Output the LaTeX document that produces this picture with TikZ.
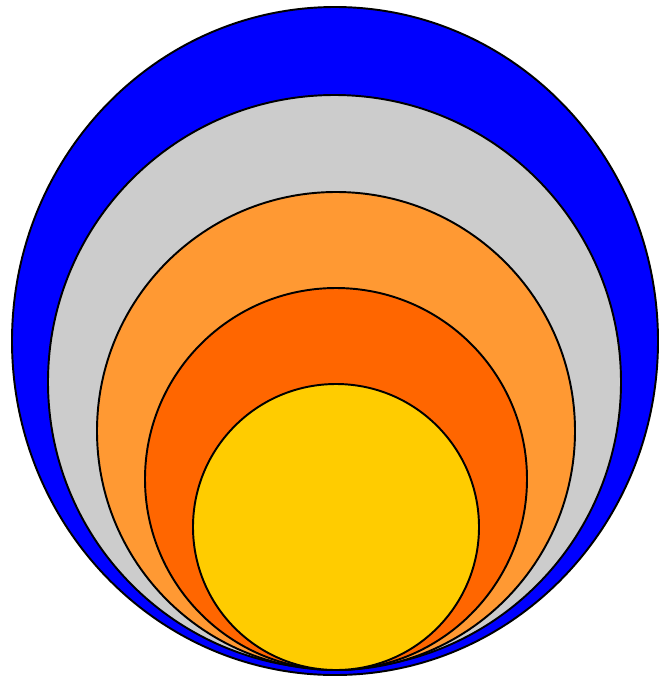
\documentclass[tikz,border=0pt]{standalone}
\usepackage{tikz}

\begin{document}
\begin{tikzpicture}[x=0.02cm,y=-0.02cm,line width=1.1pt]
  \useasboundingbox (0,0) rectangle (668,677);
  \definecolor{shellgray}{HTML}{CCCCCC}
  \definecolor{shelllight}{HTML}{FF9933}
  \definecolor{shelldark}{HTML}{FF6600}
  \definecolor{shellcore}{HTML}{FFCC00}
  \draw[fill=blue] (335,341) ellipse[x radius=323,y radius=334];
  \draw[fill=shellgray] (334.5,382) ellipse[x radius=286.5,y radius=287];
  \draw[fill=shelllight] (336,431) circle(239);
  \draw[fill=shelldark] (336,479) circle(191);
  \draw[fill=shellcore] (336,527) circle(143);
\end{tikzpicture}
\end{document}
